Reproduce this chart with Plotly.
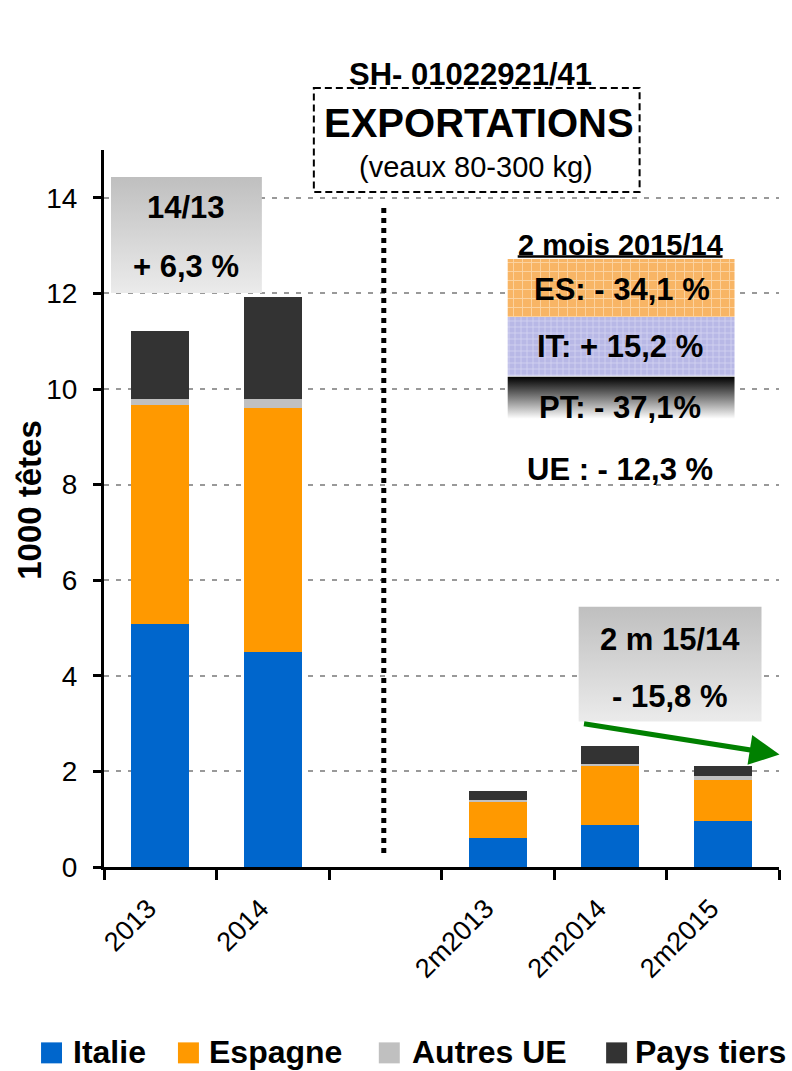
import plotly.graph_objects as go

# ---------------- data ----------------
categories = ["2013", "2014", " ", "2m2013", "2m2014", "2m2015"]
italie = [5.08, 4.49, None, 0.60, 0.87, 0.97]
espagne = [4.59, 5.11, None, 0.78, 1.25, 0.84]
autres_ue = [0.12, 0.19, None, 0.02, 0.04, 0.10]
pays_tiers = [1.42, 2.14, None, 0.18, 0.38, 0.21]
series_names = ["Italie", "Espagne", "Autres UE", "Pays tiers"]
series_values = [italie, espagne, autres_ue, pays_tiers]
series_colors = ["#0066cc", "#ff9900", "#c0c0c0", "#333333"]
y_tick_vals = [0, 2, 4, 6, 8, 10, 12, 14]

FONT = "Liberation Sans, Arial, sans-serif"
W, H = 792, 1071
L, R, T, B = 104, 779.5, 150, 867.5


def px(x):
    return (x - L) / (R - L)


def py(y):
    return (B - y) / (B - T)


fig = go.Figure()
for name, vals, col in zip(series_names, series_values, series_colors):
    fig.add_trace(go.Bar(x=categories, y=vals, name=name, marker_color=col,
                         marker_line_width=0))


def box(x0, y0, x1, y1, **kw):
    xs = [px(x0), px(x1), px(x1), px(x0), px(x0)]
    ys = [py(y0), py(y0), py(y1), py(y1), py(y0)]
    return go.Scatter(x=xs, y=ys, xaxis="x2", yaxis="y2", mode="lines",
                      line=dict(width=0), fill="toself", hoverinfo="skip",
                      showlegend=False, **kw)


# gradient boxes
fig.add_trace(box(111, 177, 262, 293,
                  fillgradient=dict(type="vertical",
                                    colorscale=[[0, "#ebebeb"], [1, "#bfbfbf"]])))
fig.add_trace(box(579, 607, 762, 722,
                  fillgradient=dict(type="vertical",
                                    colorscale=[[0, "#ebebeb"], [1, "#bfbfbf"]])))
# pattern boxes
fig.add_trace(box(508, 259, 735, 317, fillcolor="#f8b565",
                  fillpattern=dict(shape="+", bgcolor="#f8b565", fgcolor="#fff1df",
                                   size=9, solidity=0.2)))
fig.add_trace(box(508, 317, 735, 376, fillcolor="#b8b8e6",
                  fillpattern=dict(shape="+", bgcolor="#b8b8e6", fgcolor="#f0f0fb",
                                   size=6, solidity=0.25)))
fig.add_trace(box(508, 377, 735, 433,
                  fillgradient=dict(type="vertical",
                                    colorscale=[[0, "#ffffff"], [0.25, "#ffffff"], [1, "#000000"]])))

annotations = []


def txt(s, x, y, size, bold=True, xanchor="center"):
    annotations.append(dict(text=("<b>%s</b>" % s) if bold else s,
                            x=px(x), y=py(y), xref="paper", yref="paper",
                            xanchor=xanchor, yanchor="middle", showarrow=False,
                            font=dict(family=FONT, size=size, color="black")))


txt("SH- 01022921/41", 471, 74, 31)
txt("EXPORTATIONS", 479, 123, 40)
txt("(veaux 80-300 kg)", 476, 167, 29, bold=False)
txt("14/13", 186, 208, 31)
txt("+ 6,3 %", 186, 267, 31)
txt("2 mois 2015/14", 620.5, 245, 29)
txt("ES: - 34,1 %", 622, 290, 31)
txt("IT: + 15,2 %", 620, 347, 31)
txt("PT: - 37,1%", 620, 408, 31)
txt("UE : - 12,3 %", 620, 470, 31)
txt("2 m 15/14", 670, 640, 31)
txt("- 15,8 %", 670, 697, 31)

# y axis title
annotations.append(dict(text="<b>1000 têtes</b>", x=px(30), y=py(500), xref="paper",
                        yref="paper", textangle=-90, showarrow=False,
                        xanchor="center", yanchor="middle",
                        font=dict(family=FONT, size=33, color="black")))

# green arrow
annotations.append(dict(text="", x=px(780), y=py(755), ax=583 - 780, ay=724 - 755,
                        xref="paper", yref="paper", axref="pixel", ayref="pixel",
                        showarrow=True, arrowhead=2, arrowsize=1.2, arrowwidth=5,
                        arrowcolor="#008000", standoff=0))

shapes = []
# dashed title box
shapes.append(dict(type="rect", xref="paper", yref="paper", x0=px(314), x1=px(640),
                   y0=py(88), y1=py(192), line=dict(color="black", width=2, dash="7px,4px"),
                   fillcolor="rgba(0,0,0,0)"))
# underline
shapes.append(dict(type="line", xref="paper", yref="paper", x0=px(518), x1=px(723),
                   y0=py(256.5), y1=py(256.5), line=dict(color="black", width=2.5)))
# vertical dotted separator
shapes.append(dict(type="line", xref="paper", yref="paper", x0=px(384), x1=px(384),
                   y0=py(208), y1=py(858), line=dict(color="black", width=5, dash="dot")))

# manual legend
legend_sq_x = [41, 178, 379, 606.5]
legend_txt_x = [71, 207, 410, 633]
for name, col, sx, tx in zip(series_names, series_colors, legend_sq_x, legend_txt_x):
    shapes.append(dict(type="rect", xref="paper", yref="paper", x0=px(sx), x1=px(sx + 21),
                       y0=py(1043), y1=py(1064), fillcolor=col, line=dict(width=0)))
    txt(name, tx, 1053, 32, xanchor="left")

fig.update_layout(
    width=W, height=H,
    barmode="stack", bargap=0.485,
    plot_bgcolor="white", paper_bgcolor="white",
    margin=dict(l=L, r=W - R, t=T, b=H - B, autoexpand=False),
    showlegend=False,
    font=dict(family=FONT, color="black"),
    annotations=annotations,
    shapes=shapes,
    xaxis=dict(type="category", categoryorder="array", categoryarray=categories,
               range=[-0.5, 5.5], tickson="boundaries", ticks="outside", ticklen=10,
               tickwidth=2.5, tickcolor="black", showline=True, linecolor="black",
               linewidth=3, tickangle=-45, showgrid=False,
               ticklabelshift=-12, ticklabelstandoff=12,
               tickfont=dict(family=FONT, size=27, color="black")),
    yaxis=dict(range=[0, 15], tickvals=y_tick_vals, ticks="outside", ticklen=8,
               tickwidth=2.5, tickcolor="black", showline=True, linecolor="black",
               linewidth=3, showgrid=True, gridcolor="#999999", gridwidth=2,
               griddash="5px,7px", zeroline=False, ticklabelstandoff=10,
               tickfont=dict(family=FONT, size=28, color="black")),
    xaxis2=dict(overlaying="x", range=[0, 1], visible=False),
    yaxis2=dict(overlaying="y", range=[0, 1], visible=False),
)

fig.write_html("out.html", config={"displayModeBar": False},
               post_script="document.body.style.margin='0px';")
